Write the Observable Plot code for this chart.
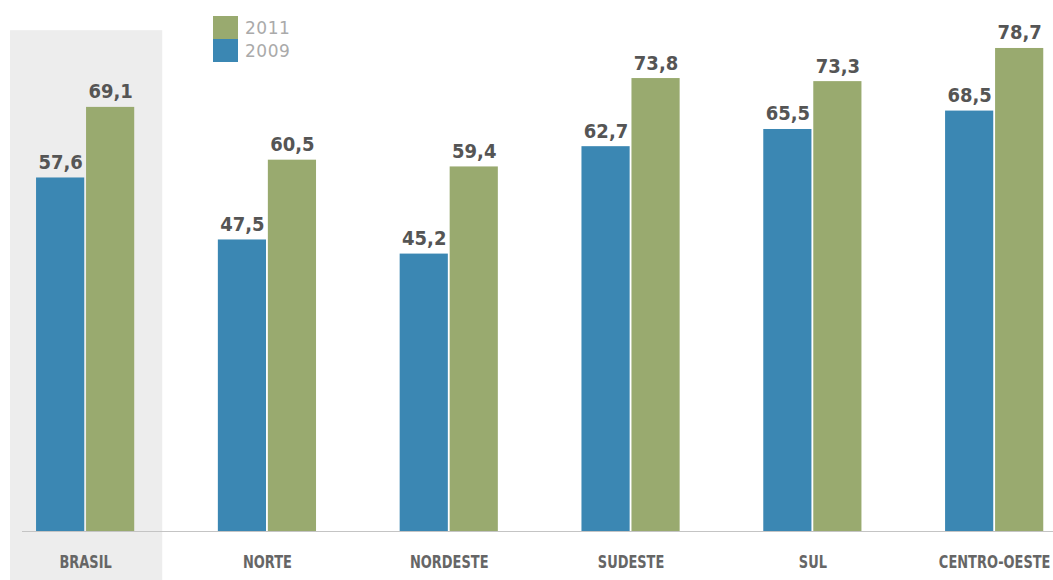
<!DOCTYPE html>
<html><head><meta charset="utf-8">
<script src="https://cdn.jsdelivr.net/npm/d3@7"></script>
<script src="https://cdn.jsdelivr.net/npm/@observablehq/plot@0.6"></script>
<style>
body{margin:0;background:#fff;}
#wrap{position:relative;width:1053px;height:580px;}
#legend{position:absolute;left:213px;top:16px;font-family:"DejaVu Sans",sans-serif;font-size:17px;color:#aaa;letter-spacing:0.5px;}
.row{display:flex;align-items:center;height:23px;}
.sw{width:25px;height:23px;margin-right:7px;}
</style></head><body>
<div id="wrap"><div id="chart"></div><div id="legend"></div></div>
<script>
const regions = ["BRASIL","NORTE","NORDESTE","SUDESTE","SUL","CENTRO-OESTE"];
const values2009 = [57.6,47.5,45.2,62.7,65.5,68.5];
const values2011 = [69.1,60.5,59.4,73.8,73.3,78.7];
const legendYears = ["2011","2009"];
const highlightRegions = ["BRASIL"];

const blue = "#3b87b3", green = "#99aa6f";
const colorOf = {"2009": blue, "2011": green};

const data = regions.flatMap((r,i)=>[
  {region:r, year:"2009", value:values2009[i]},
  {region:r, year:"2011", value:values2011[i]}
]);
const d09 = data.filter(d=>d.year==="2009");
const d11 = data.filter(d=>d.year==="2011");
const fmt = d3.formatLocale({decimal:",",thousands:".",grouping:[3],currency:["R$",""]}).format(".1f");
const valFont = "'DejaVu Sans Condensed','DejaVu Sans',sans-serif";

const chart = Plot.plot({
  width:1053, height:580, marginTop:40, marginBottom:49, marginLeft:22, marginRight:0,
  style:{fontFamily:"'DejaVu Sans Condensed',sans-serif", background:"transparent"},
  x:{domain:regions, range:[21.5,1057.8], paddingInner:0.46, paddingOuter:0.08, round:false, label:null},
  y:{domain:[0,80], axis:null},
  color:{domain:["2009","2011"], range:[blue, green]},
  marks:[
    Plot.barY(highlightRegions.map(r=>({region:r})), {x:"region", y1:-8, y2:81.6, fill:"#ededed", insetLeft:-26, insetRight:-28}),
    Plot.barY(d09, {x:"region", y:"value", fill:"year", insetRight:50}),
    Plot.barY(d11, {x:"region", y:"value", fill:"year", insetLeft:50}),
    Plot.ruleY([0], {stroke:"#c4c4c4", strokeWidth:1}),
    Plot.text(d09, {x:"region", y:"value", text:d=>fmt(d.value), dx:-25, dy:-9, lineAnchor:"bottom", fontSize:20, fontWeight:"bold", fill:"#555", fontFamily:valFont}),
    Plot.text(d11, {x:"region", y:"value", text:d=>fmt(d.value), dx:25, dy:-9, lineAnchor:"bottom", fontSize:20, fontWeight:"bold", fill:"#555", fontFamily:valFont}),
    Plot.axisX({tickSize:0, tickPadding:24, fontSize:18, fontWeight:"bold", fill:"#666", label:null})
  ]
});
document.getElementById("chart").appendChild(chart);

// condense the region labels to match the narrow bold face of the original
d3.select(chart).selectAll('g[aria-label="x-axis tick label"] text').each(function(){
  const w = this.getComputedTextLength();
  this.setAttribute("textLength", (w*0.8).toFixed(1));
  this.setAttribute("lengthAdjust", "spacingAndGlyphs");
});

const legend = document.getElementById("legend");
for (const y of legendYears) {
  const row = document.createElement("div"); row.className="row";
  const sw = document.createElement("div"); sw.className="sw"; sw.style.background = colorOf[y];
  const t = document.createElement("span"); t.textContent = y;
  row.appendChild(sw); row.appendChild(t); legend.appendChild(row);
}
</script>
</body></html>
